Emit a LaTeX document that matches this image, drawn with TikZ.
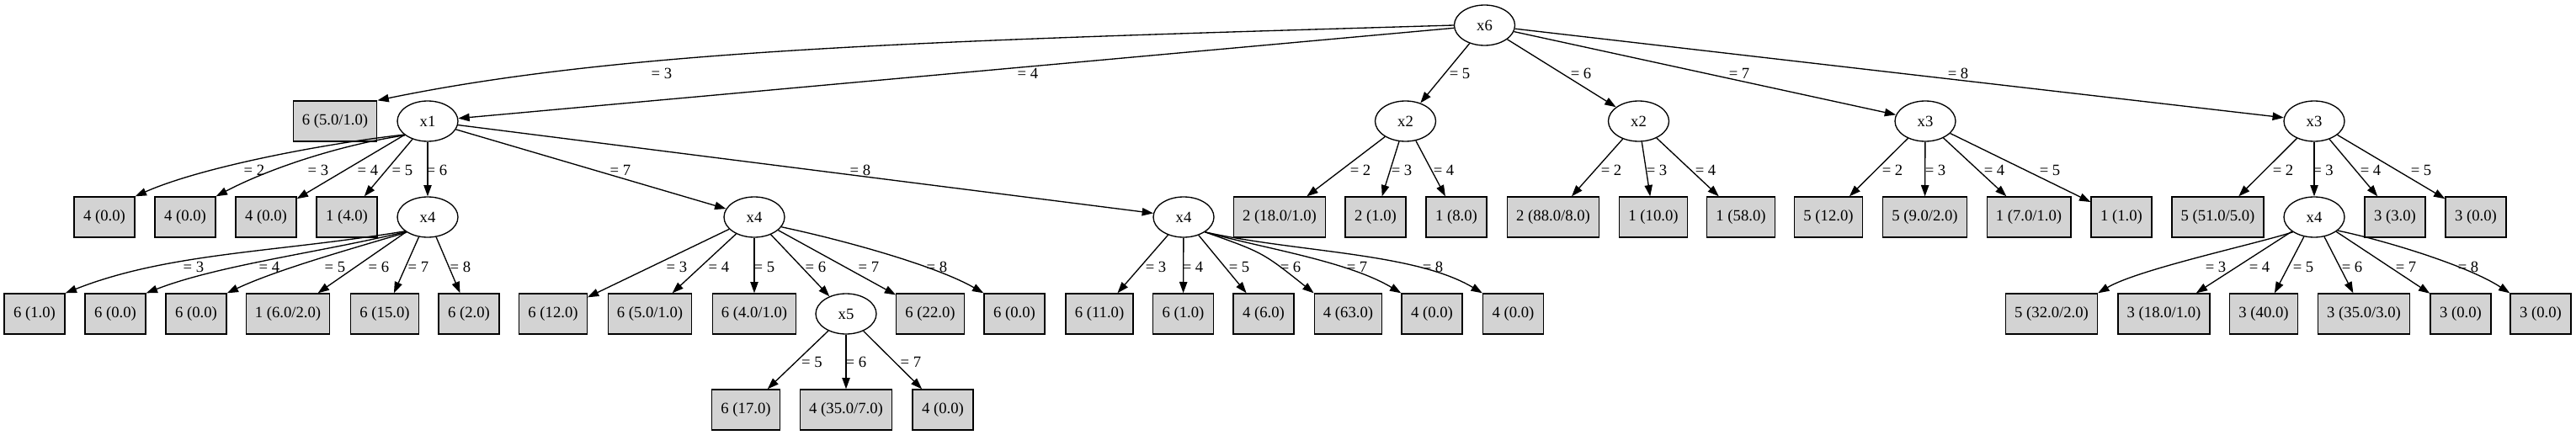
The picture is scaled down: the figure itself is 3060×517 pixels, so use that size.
\documentclass[tikz,border=0pt]{standalone}
\usepackage{fontspec}
\setmainfont{Liberation Serif}
\usetikzlibrary{shapes.geometric,arrows.meta}
\definecolor{leafgray}{RGB}{211,211,211}
\tikzset{
  split/.style={ellipse, draw, line width=1pt, minimum width=54pt, minimum height=36pt, inner sep=0pt},
  leaf/.style={rectangle, draw, fill=leafgray, line width=1pt, minimum width=54pt, minimum height=36pt, inner xsep=8pt, inner ysep=0pt},
  lbl/.style={inner sep=0pt},
  edge/.style={line width=1pt, -{Triangle[length=10pt,width=7pt]}},
}
\begin{document}
\begin{tikzpicture}[x=0.75pt, y=-0.75pt, font=\fontsize{14}{16.8}\selectfont]
\useasboundingbox (0,0) rectangle (3060,517);
% rank 0
\node[split] (x6) at (1763.5,30) {x6};
% rank 1
\node[leaf] (L1) at (398,144) {6 (5.0/1.0)};
\node[split] (x1) at (508,144) {x1};
\node[split] (x2a) at (1669.5,144) {x2};
\node[split] (x2b) at (1946.5,144) {x2};
\node[split] (x3a) at (2287,144) {x3};
\node[split] (x3b) at (2749,144) {x3};
% rank 2
\node[leaf] (a1) at (124,258) {4 (0.0)};
\node[leaf] (a2) at (220,258) {4 (0.0)};
\node[leaf] (a3) at (316,258) {4 (0.0)};
\node[leaf] (a4) at (412,258) {1 (4.0)};
\node[split] (x4a) at (508,258) {x4};
\node[split] (x4b) at (896,258) {x4};
\node[split] (x4c) at (1406,258) {x4};
\node[leaf] (b1) at (1520,258) {2 (18.0/1.0)};
\node[leaf] (b2) at (1634,258) {2 (1.0)};
\node[leaf] (b3) at (1730,258) {1 (8.0)};
\node[leaf] (c1) at (1845,258) {2 (88.0/8.0)};
\node[leaf] (c2) at (1964,258) {1 (10.0)};
\node[leaf] (c3) at (2068,258) {1 (58.0)};
\node[leaf] (d1) at (2172,258) {5 (12.0)};
\node[leaf] (d2) at (2286.5,258) {5 (9.0/2.0)};
\node[leaf] (d3) at (2410,258) {1 (7.0/1.0)};
\node[leaf] (d4) at (2520,258) {1 (1.0)};
\node[leaf] (e1) at (2634.5,258) {5 (51.0/5.0)};
\node[split] (x4d) at (2749,258) {x4};
\node[leaf] (e3) at (2845,258) {3 (3.0)};
\node[leaf] (e4) at (2941,258) {3 (0.0)};
% rank 3
\node[leaf] (f1) at (41,373) {6 (1.0)};
\node[leaf] (f2) at (137,373) {6 (0.0)};
\node[leaf] (f3) at (233,373) {6 (0.0)};
\node[leaf] (f4) at (342,373) {1 (6.0/2.0)};
\node[leaf] (f5) at (457,373) {6 (15.0)};
\node[leaf] (f6) at (557,373) {6 (2.0)};
\node[leaf] (g1) at (657,373) {6 (12.0)};
\node[leaf] (g2) at (772,373) {6 (5.0/1.0)};
\node[leaf] (g3) at (896,373) {6 (4.0/1.0)};
\node[split] (x5) at (1005,373) {x5};
\node[leaf] (g5) at (1105,373) {6 (22.0)};
\node[leaf] (g6) at (1205,373) {6 (0.0)};
\node[leaf] (h1) at (1306,373) {6 (11.0)};
\node[leaf] (h2) at (1405.5,373) {6 (1.0)};
\node[leaf] (h3) at (1501,373) {4 (6.0)};
\node[leaf] (h4) at (1601.5,373) {4 (63.0)};
\node[leaf] (h5) at (1701,373) {4 (0.0)};
\node[leaf] (h6) at (1797.5,373) {4 (0.0)};
\node[leaf] (k1) at (2437,373) {5 (32.0/2.0)};
\node[leaf] (k2) at (2570.5,373) {3 (18.0/1.0)};
\node[leaf] (k3) at (2689,373) {3 (40.0)};
\node[leaf] (k4) at (2808,373) {3 (35.0/3.0)};
\node[leaf] (k5) at (2923,373) {3 (0.0)};
\node[leaf] (k6) at (3018,373) {3 (0.0)};
% rank 4
\node[leaf] (m1) at (886,487) {6 (17.0)};
\node[leaf] (m2) at (1005,487) {4 (35.0/7.0)};
\node[leaf] (m3) at (1120,487) {4 (0.0)};
% edges from x6
\draw[edge] (x6.180) .. controls (1123,48) and (745,58) .. (L1.north east);
\draw[edge] (x6) -- (x1);
\draw[edge] (x6) -- (x2a);
\draw[edge] (x6) -- (x2b);
\draw[edge] (x6) -- (x3a);
\draw[edge] (x6) -- (x3b);
% edges from x1
\draw[edge] (x1.210) .. controls (390,170) and (240,198) .. (a1.north east);
\draw[edge] (x1.212) .. controls (405,172) and (320,200) .. (a2.north east);
\draw[edge] (x1) -- (a3);
\draw[edge] (x1) -- (a4);
\draw[edge] (x1) -- (x4a);
\draw[edge] (x1) -- (x4b);
\draw[edge] (x1) -- (x4c);
% edges from x2, x3
\draw[edge] (x2a) -- (b1);
\draw[edge] (x2a) -- (b2);
\draw[edge] (x2a) -- (b3);
\draw[edge] (x2b) -- (c1);
\draw[edge] (x2b) -- (c2);
\draw[edge] (x2b) -- (c3);
\draw[edge] (x3a) -- (d1);
\draw[edge] (x3a) -- (d2);
\draw[edge] (x3a) -- (d3);
\draw[edge] (x3a) -- (d4);
\draw[edge] (x3b) -- (e1);
\draw[edge] (x3b) -- (x4d);
\draw[edge] (x3b) -- (e3);
\draw[edge] (x3b) -- (e4);
% edges from x4a
\draw[edge] (x4a.212) .. controls (330,300) and (200,300) .. (f1.north east);
\draw[edge] (x4a.214) .. controls (380,300) and (260,315) .. (f2.north east);
\draw[edge] (x4a.216) .. controls (420,295) and (330,320) .. (f3.north east);
\draw[edge] (x4a) -- (f4);
\draw[edge] (x4a) -- (f5);
\draw[edge] (x4a) -- (f6);
% edges from x4b
\draw[edge] (x4b) -- (g1);
\draw[edge] (x4b) -- (g2);
\draw[edge] (x4b) -- (g3);
\draw[edge] (x4b) -- (x5);
\draw[edge] (x4b) -- (g5);
\draw[edge] (x4b.-20) .. controls (1000,285) and (1110,315) .. (g6.north west);
% edges from x4c
\draw[edge] (x4c) -- (h1);
\draw[edge] (x4c) -- (h2);
\draw[edge] (x4c) -- (h3);
\draw[edge] (x4c.-35) .. controls (1500,300) .. (h4.north west);
\draw[edge] (x4c.-35) .. controls (1500,295) and (1600,310) .. (h5.north west);
\draw[edge] (x4c.-35) .. controls (1540,300) and (1680,300) .. (h6.north west);
% edges from x4d
\draw[edge] (x4d.215) .. controls (2680,290) and (2540,320) .. (k1.north east);
\draw[edge] (x4d) -- (k2);
\draw[edge] (x4d) -- (k3);
\draw[edge] (x4d) -- (k4);
\draw[edge] (x4d) -- (k5);
\draw[edge] (x4d.-30) .. controls (2830,285) and (2930,315) .. (k6.north west);
% edges from x5
\draw[edge] (x5) -- (m1);
\draw[edge] (x5) -- (m2);
\draw[edge] (x5) -- (m3);
% labels, x6
\node[lbl] (t01) at (786,87) {= 3};
\node[lbl] (t02) at (1221,87) {= 4};
\node[lbl] (t03) at (1734,87) {= 5};
\node[lbl] (t04) at (1878,87) {= 6};
\node[lbl] (t05) at (2066,87) {= 7};
\node[lbl] (t06) at (2326,87) {= 8};
% labels, x1
\node[lbl] (t11) at (302,202) {= 2};
\node[lbl] (t12) at (378,202) {= 3};
\node[lbl] (t13) at (437,202) {= 4};
\node[lbl] (t14) at (478,202) {= 5};
\node[lbl] (t15) at (519,202) {= 6};
\node[lbl] (t16) at (737,202) {= 7};
\node[lbl] (t17) at (1022,202) {= 8};
% labels, x2 / x3
\node[lbl] (t21) at (1616,202) {= 2};
\node[lbl] (t22) at (1665,202) {= 3};
\node[lbl] (t23) at (1715,202) {= 4};
\node[lbl] (t24) at (1914,202) {= 2};
\node[lbl] (t25) at (1968,202) {= 3};
\node[lbl] (t26) at (2026,202) {= 4};
\node[lbl] (t31) at (2248,202) {= 2};
\node[lbl] (t32) at (2299,202) {= 3};
\node[lbl] (t33) at (2369,202) {= 4};
\node[lbl] (t34) at (2435,202) {= 5};
\node[lbl] (t35) at (2712,202) {= 2};
\node[lbl] (t36) at (2759.5,202) {= 3};
\node[lbl] (t37) at (2816,202) {= 4};
\node[lbl] (t38) at (2876,202) {= 5};
% labels, x4a
\node[lbl] (t41) at (230,317) {= 3};
\node[lbl] (t42) at (320,317) {= 4};
\node[lbl] (t43) at (398,317) {= 5};
\node[lbl] (t44) at (450,317) {= 6};
\node[lbl] (t45) at (497,317) {= 7};
\node[lbl] (t46) at (547,317) {= 8};
% labels, x4b
\node[lbl] (t51) at (804,317) {= 3};
\node[lbl] (t52) at (854,317) {= 4};
\node[lbl] (t53) at (908,317) {= 5};
\node[lbl] (t54) at (969,317) {= 6};
\node[lbl] (t55) at (1032,317) {= 7};
\node[lbl] (t56) at (1113,317) {= 8};
% labels, x4c
\node[lbl] (t61) at (1373,317) {= 3};
\node[lbl] (t62) at (1417,317) {= 4};
\node[lbl] (t63) at (1472,317) {= 5};
\node[lbl] (t64) at (1533,317) {= 6};
\node[lbl] (t65) at (1612,317) {= 7};
\node[lbl] (t66) at (1702,317) {= 8};
% labels, x4d
\node[lbl] (t71) at (2632,317) {= 3};
\node[lbl] (t72) at (2684,317) {= 4};
\node[lbl] (t73) at (2736,317) {= 5};
\node[lbl] (t74) at (2794,317) {= 6};
\node[lbl] (t75) at (2858,317) {= 7};
\node[lbl] (t76) at (2932,317) {= 8};
% labels, x5
\node[lbl] (t81) at (964.5,430) {= 5};
\node[lbl] (t82) at (1017,430) {= 6};
\node[lbl] (t83) at (1082,430) {= 7};
\end{tikzpicture}
\end{document}
